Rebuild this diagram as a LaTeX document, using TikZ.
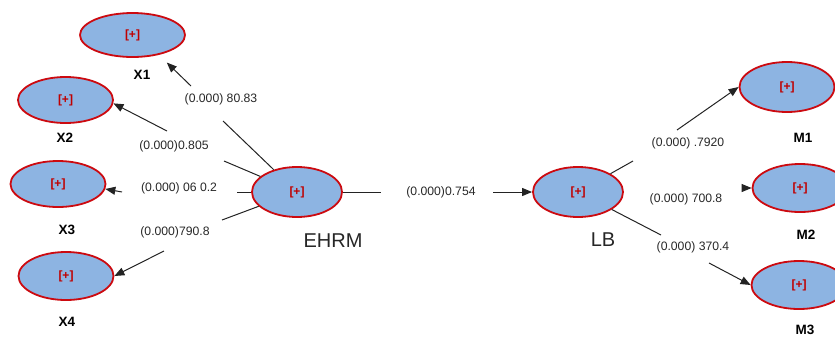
\documentclass[tikz,border=0pt]{standalone}
\usepackage{fontspec}
\setmainfont{Liberation Sans}
\usetikzlibrary{shapes.geometric,arrows.meta}
\definecolor{latfill}{RGB}{141,180,226}
\definecolor{latedge}{RGB}{204,10,16}
\definecolor{plustxt}{RGB}{192,0,0}
\definecolor{wire}{RGB}{35,35,35}
\definecolor{coeftxt}{RGB}{40,40,40}

\begin{document}
\begin{tikzpicture}[x=1pt,y=-1pt,
  latent/.style={ellipse, draw=latedge, line width=1.8pt, fill=latfill, inner sep=0pt,
    font=\fontsize{12}{12}\selectfont\bfseries, text=plustxt},
  ind/.style={latent, minimum width=95pt, minimum height=46pt},
  lv/.style={latent, minimum width=90pt, minimum height=50pt},
  indname/.style={font=\fontsize{13.5}{13.5}\selectfont\bfseries, inner sep=0pt},
  lvname/.style={font=\fontsize{20}{20}\selectfont, text=black!85, inner sep=0pt},
  coef/.style={font=\fontsize{12.2}{12.2}\selectfont, text=coeftxt, inner sep=0pt},
  wireline/.style={draw=wire, line width=1pt},
  arr/.style={wireline, -{Triangle[length=10pt,width=8pt]}}
]
\useasboundingbox (0,0) rectangle (835,338);

% indicator blocks on the left
\node[ind, minimum width=105pt, minimum height=44pt] (x1) at (132.5,35) {[+]};
\node[ind] (x2) at (65.5,100) {[+]};
\node[ind] (x3) at (58,184) {[+]};
\node[ind, minimum height=48pt] (x4) at (66,276) {[+]};
\node[indname] (nx1) at (142,75) {X1};
\node[indname] (nx2) at (65,138) {X2};
\node[indname] (nx3) at (67,230) {X3};
\node[indname] (nx4) at (67,322) {X4};

% latent variables
\node[lv] (ehrm) at (297,192) {[+]};
\node[lv] (lb) at (578,192) {[+]};
\node[lvname] (nehrm) at (333,241) {EHRM};
\node[lvname] (nlb) at (603,240) {LB};

% indicator blocks on the right
\node[ind, minimum height=50pt] (m1) at (787,87) {[+]};
\node[ind, minimum height=48pt] (m2) at (800,188) {[+]};
\node[ind, minimum height=48pt] (m3) at (799,285) {[+]};
\node[indname] (nm1) at (803,138) {M1};
\node[indname] (nm2) at (806,235) {M2};
\node[indname] (nm3) at (805,330) {M3};

% break points of the connectors around their labels
\coordinate (a1) at (223,121); \coordinate (b1) at (191,86);
\coordinate (a2) at (224,161); \coordinate (b2) at (167,131);
\coordinate (a3) at (237,192); \coordinate (b3) at (122,192);
\coordinate (a4) at (222,220); \coordinate (b4) at (164,251);
\coordinate (a5) at (381,192); \coordinate (b5) at (493,192);
\coordinate (a6) at (633,161); \coordinate (b6) at (677,130);
\coordinate (b7) at (743,188);
\coordinate (a8) at (661,235); \coordinate (b8) at (709,263);

% EHRM to its indicators
\draw[wireline] (ehrm) -- (a1);
\draw[arr, shorten >=11pt] (b1) -- (x1.-37);
\node[coef] (c1) at (221,99) {(0.000) 80.83};
\draw[wireline] (ehrm) -- (a2);
\draw[arr] (b2) -- (x2.-4);
\node[coef] (c2) at (174,146) {(0.000)0.805};
\draw[wireline] (ehrm) -- (a3);
\draw[arr] (b3) -- (x3.-6);
\node[coef] (c3) at (179,188) {(0.000) 06 0.2};
\draw[wireline] (ehrm) -- (a4);
\draw[arr] (b4) -- (x4.east);
\node[coef] (c4) at (175,232) {(0.000)790.8};

% EHRM to LB
\draw[wireline] (ehrm) -- (a5);
\draw[arr] (b5) -- (lb.west);
\node[coef] (c5) at (441,192) {(0.000)0.754};

% LB to its indicators
\draw[wireline] (lb) -- (a6);
\draw[arr] (b6) -- (m1.west);
\node[coef] (c6) at (688,143) {(0.000) .7920};
\draw[arr] (b7) -- (m2.west);
\node[coef] (c7) at (686,199) {(0.000) 700.8};
\draw[wireline] (lb) -- (a8);
\draw[arr] (b8) -- (m3.west);
\node[coef] (c8) at (693,247) {(0.000) 370.4};
\end{tikzpicture}
\end{document}
